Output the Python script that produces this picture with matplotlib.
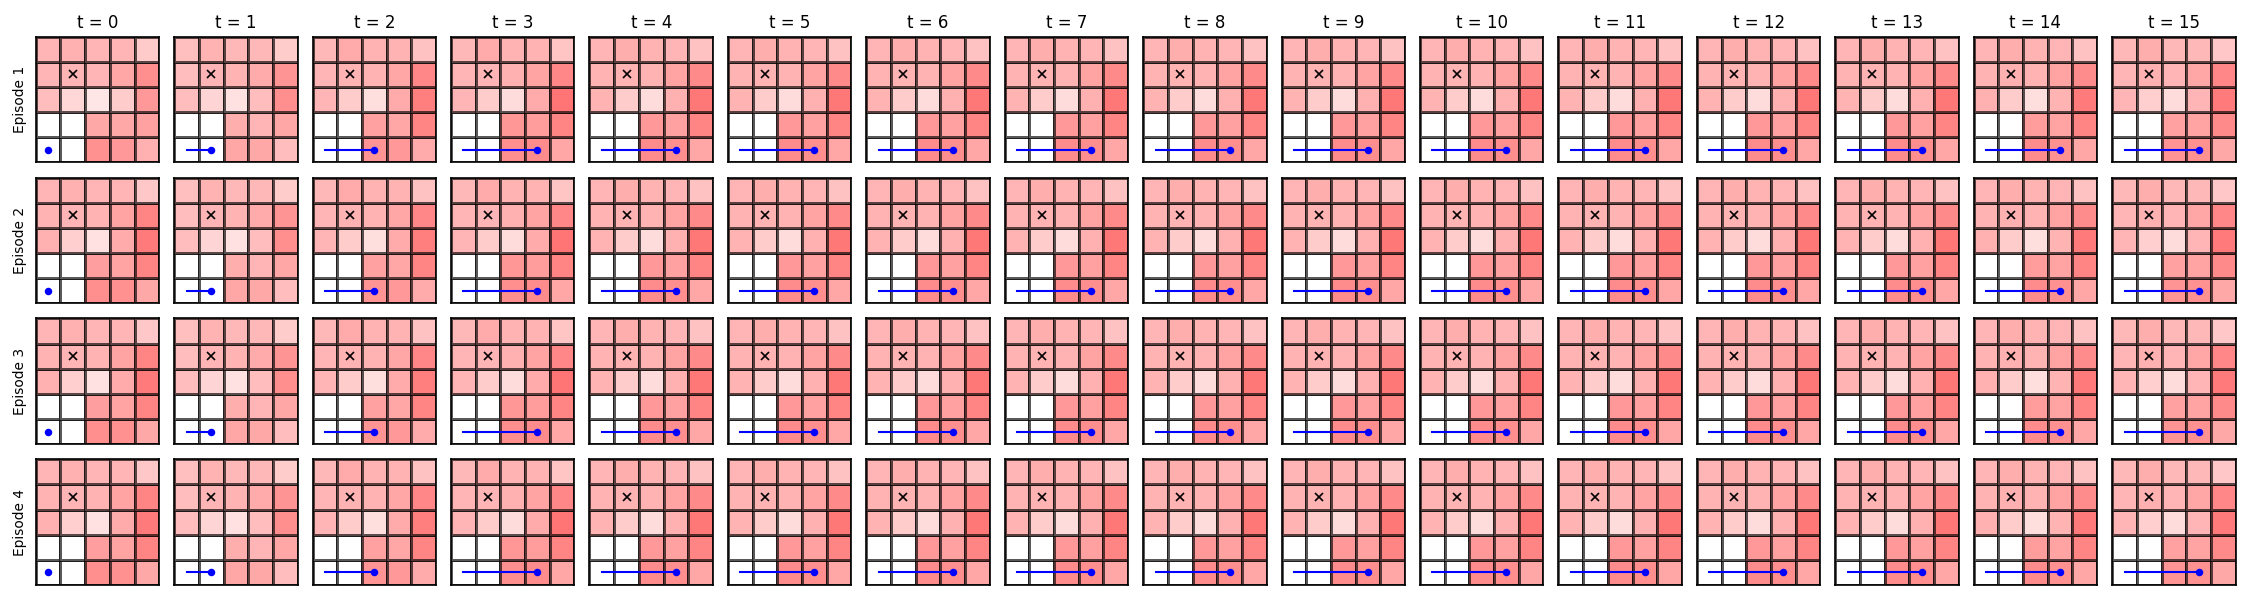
import matplotlib.pyplot as plt
import numpy as np
from matplotlib.colors import LinearSegmentedColormap

# Valores de cada celda (fila superior primero), 0 = blanco, 1 = rojo puro
t0_ep1 = [[0.29, 0.31, 0.29, 0.29, 0.21],
          [0.29, 0.29, 0.29, 0.35, 0.44],
          [0.26, 0.16, 0.10, 0.20, 0.40],
          [0.00, 0.00, 0.34, 0.34, 0.37],
          [0.00, 0.00, 0.43, 0.40, 0.31]]

t0_otros = [[0.29, 0.31, 0.29, 0.29, 0.22],
            [0.30, 0.29, 0.30, 0.36, 0.48],
            [0.31, 0.19, 0.12, 0.33, 0.52],
            [0.00, 0.00, 0.38, 0.36, 0.48],
            [0.00, 0.00, 0.44, 0.43, 0.34]]

t1 = [[0.25, 0.30, 0.28, 0.28, 0.20],
      [0.26, 0.29, 0.30, 0.33, 0.42],
      [0.26, 0.17, 0.12, 0.26, 0.44],
      [0.00, 0.00, 0.32, 0.29, 0.35],
      [0.00, 0.00, 0.35, 0.34, 0.26]]

t2 = [[0.28, 0.33, 0.30, 0.30, 0.24],
      [0.29, 0.30, 0.30, 0.35, 0.47],
      [0.29, 0.20, 0.13, 0.33, 0.50],
      [0.00, 0.00, 0.37, 0.35, 0.48],
      [0.00, 0.00, 0.42, 0.40, 0.33]]

t3 = [[0.28, 0.33, 0.30, 0.30, 0.23],
      [0.29, 0.29, 0.31, 0.36, 0.47],
      [0.29, 0.20, 0.14, 0.33, 0.54],
      [0.00, 0.00, 0.41, 0.39, 0.48],
      [0.00, 0.00, 0.44, 0.45, 0.35]]

t_medio = [[0.29, 0.32, 0.30, 0.29, 0.24],
           [0.30, 0.30, 0.30, 0.36, 0.46],
           [0.30, 0.20, 0.14, 0.31, 0.53],
           [0.00, 0.00, 0.40, 0.37, 0.48],
           [0.00, 0.00, 0.45, 0.44, 0.35]]

t14 = [[0.29, 0.32, 0.30, 0.29, 0.24],
       [0.30, 0.31, 0.30, 0.36, 0.45],
       [0.31, 0.20, 0.13, 0.30, 0.52],
       [0.00, 0.00, 0.39, 0.36, 0.48],
       [0.00, 0.00, 0.45, 0.43, 0.35]]

t15 = [[0.28, 0.32, 0.28, 0.28, 0.22],
       [0.29, 0.31, 0.29, 0.35, 0.47],
       [0.29, 0.19, 0.14, 0.29, 0.52],
       [0.00, 0.00, 0.37, 0.36, 0.46],
       [0.00, 0.00, 0.42, 0.43, 0.34]]

# rejilla usada en cada paso t = 1..15
rejillas_t = [t1, t2, t3] + [t_medio] * 10 + [t14, t15]

# trayectoria del agente (columna, fila desde abajo)
camino_x = [0, 1, 2, 3, 3, 3, 3, 3, 3, 3, 3, 3, 3, 3, 3, 3]
camino_y = [0, 0, 0, 0, 0, 0, 0, 0, 0, 0, 0, 0, 0, 0, 0, 0]

# objetivo marcado con una cruz
meta = (1, 3)

episodios = ['Episode 1', 'Episode 2', 'Episode 3', 'Episode 4']
n_t = 16

cmap = LinearSegmentedColormap.from_list('rojos', ['white', 'red'])

fig, axs = plt.subplots(4, n_t, figsize=(15, 4), dpi=150)
fig.subplots_adjust(left=0.0159, right=0.9936, bottom=0.025, top=0.9388,
                    wspace=0.1216, hspace=0.121)

for e in range(4):
    for t in range(n_t):
        ax = axs[e, t]
        if t == 0:
            g = t0_ep1 if e == 0 else t0_otros
        else:
            g = rejillas_t[t - 1]
        z = np.array(g)[::-1]  # fila de abajo primero
        ax.pcolormesh(np.arange(6), np.arange(6), z, cmap=cmap, vmin=0, vmax=1,
                      edgecolors=(0, 0, 0, 0.65), linewidth=0.6)
        ax.plot(meta[0] + 0.5, meta[1] + 0.5, 'x', color='black',
                markersize=4, markeredgewidth=0.8)
        xs = np.array(camino_x[:t + 1]) + 0.5
        ys = np.array(camino_y[:t + 1]) + 0.5
        ax.plot(xs, ys, '-', color='blue', linewidth=1.0)
        ax.plot(xs[-1], ys[-1], 'o', color='blue', markersize=2.6)
        ax.set_xlim(0, 5)
        ax.set_ylim(0, 5)
        ax.set_xticks([])
        ax.set_yticks([])
        if e == 0:
            ax.set_title('t = %d' % t, fontsize=8, pad=4)
        if t == 0:
            ax.set_ylabel(episodios[e], fontsize=6.6)

plt.savefig('out.png')
